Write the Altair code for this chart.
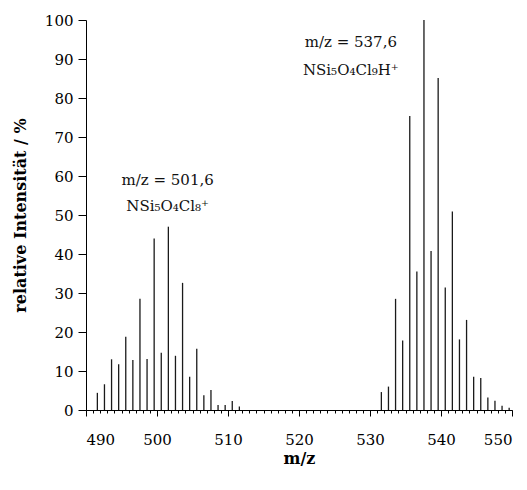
import altair as alt
import pandas as pd

# isotope pattern, cluster 1 (m/z 501,6)
mz_left = [491.6, 492.6, 493.6, 494.6, 495.6, 496.6, 497.6, 498.6, 499.6, 500.6,
           501.6, 502.6, 503.6, 504.6, 505.6, 506.6, 507.6, 508.6, 509.6, 510.6, 511.6]
int_left = [4.4, 6.6, 13.0, 11.7, 18.8, 12.8, 28.5, 13.1, 44.0, 14.7,
            47.0, 13.9, 32.6, 8.5, 15.7, 3.8, 5.1, 1.3, 1.3, 2.3, 0.9]

# isotope pattern, cluster 2 (m/z 537,6)
mz_right = [531.6, 532.6, 533.6, 534.6, 535.6, 536.6, 537.6, 538.6, 539.6, 540.6,
            541.6, 542.6, 543.6, 544.6, 545.6, 546.6, 547.6, 548.6, 549.6]
int_right = [4.6, 6.0, 28.5, 17.8, 75.4, 35.5, 100.0, 40.8, 85.1, 31.4,
             50.9, 18.1, 23.1, 8.5, 8.2, 3.2, 2.4, 1.1, 0.6]

# annotations
ann_x = [501.5, 501.5, 527.3, 527.3]
ann_y = [59.0, 52.4, 94.4, 87.3]
ann_text = ["m/z = 501,6", "NSi₅O₄Cl₈⁺", "m/z = 537,6", "NSi₅O₄Cl₉H⁺"]

major_ticks = list(range(490, 551, 10))
minor_ticks = list(range(490, 551, 1))
y_ticks = list(range(0, 101, 10))

FONT = "DejaVu Serif"

df = pd.DataFrame({"mz": mz_left + mz_right, "inten": int_left + int_right})
ann = pd.DataFrame({"mz": ann_x, "inten": ann_y, "t": ann_text})

xscale = alt.Scale(domain=[490, 550], nice=False, zero=False)
yscale = alt.Scale(domain=[0, 100], nice=False)

y_enc = alt.Y("inten:Q", scale=yscale,
              axis=alt.Axis(values=y_ticks, title="relative Intensität / %",
                            tickSize=8, labelPadding=5, titlePadding=16,
                            grid=False, format="d"))

bars = alt.Chart(df).mark_rule(color="#1a1a1a", strokeWidth=1.3).encode(
    x=alt.X("mz:Q", scale=xscale,
            axis=alt.Axis(values=major_ticks, orient="bottom", title="m/z",
                          tickSize=6, labelPadding=16, titleY=48,
                          titleBaseline="middle", format="d", grid=False)),
    y=y_enc,
    y2=alt.datum(0),
)

minor = alt.Chart(df).mark_point(opacity=0).encode(
    x=alt.X("mz:Q", scale=xscale,
            axis=alt.Axis(values=minor_ticks, orient="bottom", title=None,
                          labels=False, tickSize=3, domain=False, grid=False)),
    y=y_enc,
)

texts = alt.Chart(ann).mark_text(font=FONT, fontSize=15, color="#111",
                                 align="center", baseline="middle").encode(
    x=alt.X("mz:Q", scale=xscale, axis=None),
    y=y_enc,
    text="t:N",
)

chart = alt.layer(bars, minor, texts).resolve_axis(x="independent").properties(
    width=426, height=390,
    autosize=alt.AutoSizeParams(type="none"),
    padding={"left": 86, "top": 20, "right": 15, "bottom": 80},
    background="white",
).configure_view(stroke=None).configure_axis(
    domainColor="#000", tickColor="#000", domainWidth=1, tickWidth=1,
    labelFont=FONT, labelFontSize=15, labelColor="#000",
    titleFont=FONT, titleFontSize=16, titleFontWeight="bold", titleColor="#000",
)

chart.save("out.html", embed_options={"renderer": "svg", "actions": False})
